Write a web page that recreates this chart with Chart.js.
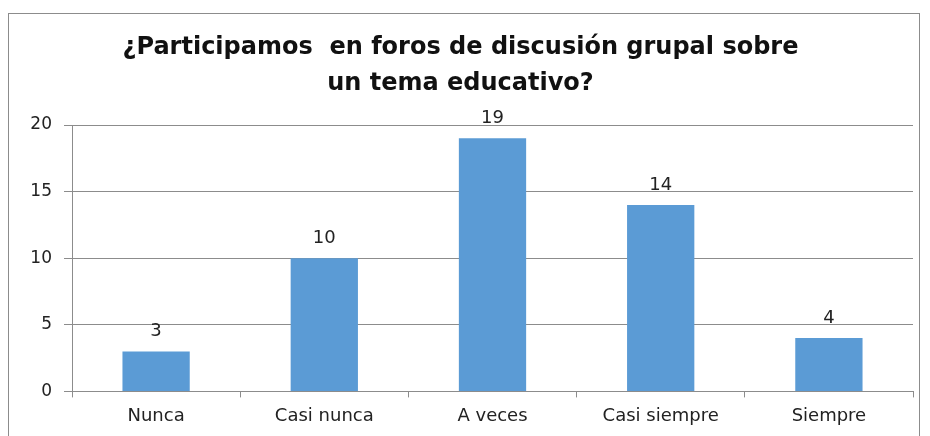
<!DOCTYPE html>
<html>
<head>
<meta charset="utf-8">
<script src="https://cdn.jsdelivr.net/npm/chart.js@4/dist/chart.umd.min.js"></script>
<style>
  html, body { margin: 0; padding: 0; background: #ffffff; }
  #wrap { position: relative; width: 930px; height: 436px; overflow: hidden; }
  #frame { position: absolute; left: 8px; top: 13px; width: 912px; height: 440px; border: 1px solid #8c8c8c; box-sizing: border-box; }
  canvas { position: absolute; left: 0; top: 0; }
</style>
</head>
<body>
<div id="wrap">
  <div id="frame"></div>
  <canvas id="c" width="930" height="436"></canvas>
</div>
<script>
const categories = ["Nunca", "Casi nunca", "A veces", "Casi siempre", "Siempre"];
const values = [3, 10, 19, 14, 4];
const yTicks = [0, 5, 10, 15, 20];
const titleLines = ["¿Participamos  en foros de discusión grupal sobre", "un tema educativo?"];

const labelPlugin = {
  id: 'barLabels',
  afterDatasetsDraw(chart) {
    const ctx = chart.ctx;
    const meta = chart.getDatasetMeta(0);
    ctx.save();
    ctx.font = '18px "DejaVu Sans", Verdana, sans-serif';
    ctx.fillStyle = '#222';
    ctx.textAlign = 'center';
    ctx.textBaseline = 'middle';
    meta.data.forEach((bar, i) => {
      ctx.fillText(String(values[i]), bar.x, bar.y - 20);
    });
    ctx.restore();
  }
};

new Chart(document.getElementById('c'), {
  type: 'bar',
  data: {
    labels: categories,
    datasets: [{
      data: values,
      backgroundColor: '#5B9BD5',
      borderWidth: 0,
      categoryPercentage: 1.0,
      barPercentage: 0.4
    }]
  },
  options: {
    responsive: false,
    animation: false,
    devicePixelRatio: 1,
    layout: { padding: { left: 8, right: 17, top: 14, bottom: 1 } },
    plugins: {
      legend: { display: false },
      tooltip: { enabled: false },
      title: {
        display: true,
        text: titleLines,
        color: '#111',
        font: { family: '"DejaVu Sans", Verdana, sans-serif', size: 24, weight: 'bold', lineHeight: 1.5 },
        padding: { top: 16, bottom: 23 }
      }
    },
    scales: {
      x: {
        grid: { offset: true, drawOnChartArea: false, drawTicks: true, tickLength: 6, color: '#8c8c8c' },
        border: { color: '#8c8c8c' },
        ticks: { color: '#222', font: { family: '"DejaVu Sans", Verdana, sans-serif', size: 18 }, padding: 8 }
      },
      y: {
        min: 0, max: 20,
        afterBuildTicks: (s) => { s.ticks = yTicks.map(v => ({ value: v })); },
        afterFit: (s) => { s.width = 64; },
        grid: { color: '#8c8c8c', tickLength: 8 },
        border: { color: '#8c8c8c' },
        ticks: { color: '#222', font: { family: '"DejaVu Sans", Verdana, sans-serif', size: 17 }, padding: 12 }
      }
    }
  },
  plugins: [labelPlugin]
});
</script>
</body>
</html>
